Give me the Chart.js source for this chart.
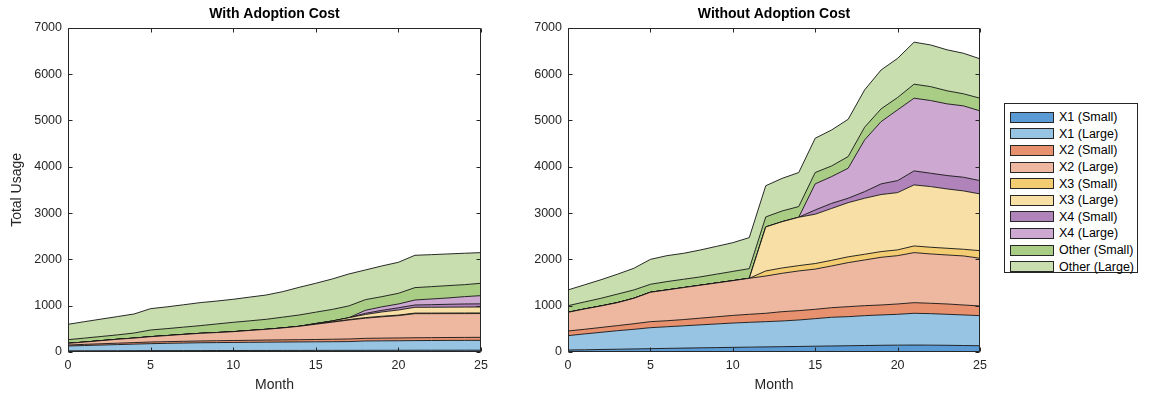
<!DOCTYPE html>
<html>
<head>
<meta charset="utf-8">
<script src="https://cdn.jsdelivr.net/npm/chart.js@4.4.1/dist/chart.umd.min.js"></script>
<style>
  html, body { margin: 0; padding: 0; background: #fff; }
  body { width: 1151px; height: 400px; position: relative; overflow: hidden;
         font-family: "Liberation Sans", Arial, Helvetica, sans-serif; }
  .panel { position: absolute; top: 0; width: 500px; height: 400px; }
  #legend { position: absolute; left: 1004px; top: 103px; width: 134px; height: 170px;
            border: 1px solid #262626; box-sizing: border-box; background: #fff; padding-top: 5px; }
  .row { height: 16.6px; display: flex; align-items: center; font-size: 12.5px; color: #000; white-space: nowrap; }
  .sw { width: 42px; height: 9px; border: 1px solid #262626; margin-left: 5px; margin-right: 5px; flex: none; }
</style>
</head>
<body>
<div class="panel" style="left:0"><canvas id="left" width="500" height="400"></canvas></div>
<div class="panel" style="left:500px"><canvas id="right" width="500" height="400"></canvas></div>
<div id="legend"></div>
<script>
// Months on the x axis
const months = [0,1,2,3,4,5,6,7,8,9,10,11,12,13,14,15,16,17,18,19,20,21,22,23,24,25];
const xTicks = [0, 5, 10, 15, 20, 25];
const yTicks = [0, 1000, 2000, 3000, 4000, 5000, 6000, 7000];

const seriesLabels = ['X1 (Small)', 'X1 (Large)', 'X2 (Small)', 'X2 (Large)', 'X3 (Small)',
                      'X3 (Large)', 'X4 (Small)', 'X4 (Large)', 'Other (Small)', 'Other (Large)'];
const seriesColors = ['#5b9bd5', '#97c4e3', '#e8916f', '#eeb8a0', '#f4cc72',
                      '#f7dfa6', '#b083ba', '#cda8d0', '#a9cd85', '#c8deaf'];

// Usage with adoption cost
const withX1Small = [25,26,27,28,29,30,30,31,31,32,32,33,33,34,34,35,35,36,36,37,37,38,38,38,39,39];
const withX1Large = [105,114,123,132,141,150,157,162,169,171,174,176,179,181,184,185,187,189,202,204,206,208,210,212,212,213];
const withX2Small = [20,25,28,30,33,36,37,38,38,40,42,44,46,47,48,50,53,56,57,58,60,62,62,63,64,65];
const withX2Large = [37,50,67,85,97,115,131,149,165,177,191,212,232,258,289,330,370,409,435,461,482,520,518,516,514,513];
const withX3Small = [0,0,0,0,0,0,0,0,0,0,0,0,0,0,0,5,7,10,12,12,12,12,12,12,13,13];
const withX3Large = [0,0,0,0,0,0,0,0,0,0,0,0,0,0,0,10,18,40,68,93,110,125,126,127,128,129];
const withX4Small = [0,0,0,0,0,0,0,0,0,0,0,0,0,0,0,0,0,0,25,35,48,50,56,62,67,68];
const withX4Large = [0,0,0,0,0,0,0,0,0,0,0,0,0,0,0,0,0,0,65,75,82,108,123,137,158,177];
const withOtherSmall = [79,85,90,95,110,144,150,157,166,185,202,208,216,232,244,245,250,255,230,220,230,267,266,266,259,267];
const withOtherLarge = [332,355,375,395,411,461,470,483,497,495,497,512,525,551,598,624,657,690,641,663,670,698,691,684,678,662];

// Usage without adoption cost
const withoutX1Small = [43,48,54,60,66,72,78,84,90,95,100,105,110,115,120,125,130,135,140,145,148,150,148,145,140,135];
const withoutX1Large = [310,342,371,400,424,453,467,481,495,510,525,536,545,555,571,595,620,628,645,655,666,686,680,669,660,650];
const withoutX2Small = [101,100,105,110,120,130,130,135,145,155,165,173,181,201,202,202,207,216,215,215,223,229,224,223,215,209];
const withoutX2Large = [403,439,464,496,550,635,665,690,710,730,750,778,804,829,857,868,901,951,987,1030,1043,1081,1065,1058,1059,1030];
const withoutX3Small = [0,0,0,0,0,0,0,0,0,0,0,0,110,115,115,120,122,125,123,123,125,144,145,145,144,164];
const withoutX3Large = [0,0,0,0,0,0,0,0,0,0,0,0,950,1000,1045,1065,1120,1170,1210,1232,1237,1318,1310,1281,1260,1225];
const withoutX4Small = [0,0,0,0,0,0,0,0,0,0,0,0,0,0,0,92,110,95,143,230,258,302,288,289,295,287];
const withoutX4Large = [0,0,0,0,0,0,0,0,0,0,0,0,0,0,0,563,578,648,1117,1345,1528,1570,1570,1548,1541,1506];
const withoutOtherSmall = [143,151,166,184,180,172,180,180,180,190,200,208,216,231,230,245,230,252,274,275,267,303,300,282,261,274];
const withoutOtherLarge = [340,370,400,430,468,538,560,560,580,600,620,670,674,704,735,740,777,805,806,840,845,907,900,885,875,850];

const withSeries = [withX1Small, withX1Large, withX2Small, withX2Large, withX3Small,
                    withX3Large, withX4Small, withX4Large, withOtherSmall, withOtherLarge];
const withoutSeries = [withoutX1Small, withoutX1Large, withoutX2Small, withoutX2Large, withoutX3Small,
                       withoutX3Large, withoutX4Small, withoutX4Large, withoutOtherSmall, withoutOtherLarge];

const FONT = '"Liberation Sans", Arial, Helvetica, sans-serif';
const AXIS = '#262626';

// Box around the plot area with inward tick marks on all four sides
const boxPlugin = {
  id: 'box',
  afterDatasetsDraw(chart) {
    const { ctx, chartArea: a, scales: { x, y } } = chart;
    const L = Math.round(a.left) + 0.5, R = Math.round(a.right) - 0.5;
    const T = Math.round(a.top) + 0.5, B = Math.round(a.bottom) - 0.5;
    ctx.save();
    ctx.strokeStyle = AXIS;
    ctx.lineWidth = 1;
    ctx.beginPath();
    ctx.rect(L, T, R - L, B - T);
    const tl = 4;
    xTicks.forEach(v => {
      const px = Math.round(x.getPixelForValue(v)) + 0.5;
      ctx.moveTo(px, B); ctx.lineTo(px, B - tl);
      ctx.moveTo(px, T); ctx.lineTo(px, T + tl);
    });
    yTicks.forEach(v => {
      const py = Math.round(y.getPixelForValue(v)) + 0.5;
      ctx.moveTo(L, py); ctx.lineTo(L + tl, py);
      ctx.moveTo(R, py); ctx.lineTo(R - tl, py);
    });
    ctx.stroke();
    ctx.restore();
  }
};

function makeChart(id, title, series, showYTitle) {
  const datasets = series.map((vals, i) => ({
    label: seriesLabels[i],
    data: months.map((m, k) => ({ x: m, y: vals[k] })),
    backgroundColor: seriesColors[i],
    borderColor: 'rgba(20,20,20,0.9)',
    borderWidth: 1,
    pointRadius: 0,
    tension: 0,
    fill: i === 0 ? 'origin' : '-1'
  }));
  return new Chart(document.getElementById(id), {
    type: 'line',
    data: { datasets },
    options: {
      responsive: false,
      animation: false,
      events: [],
      layout: { padding: { left: 0, right: showYTitle ? 19 : 20, top: 0, bottom: 0 } },
      plugins: {
        legend: { display: false },
        tooltip: { enabled: false },
        title: {
          display: true, text: title, color: '#000', fullSize: false,
          font: { family: FONT, size: 14, weight: 'bold' },
          padding: { top: 6, bottom: 5 }
        }
      },
      scales: {
        x: {
          type: 'linear', min: 0, max: 25,
          grid: { display: false, drawTicks: false },
          border: { display: false },
          ticks: { stepSize: 5, color: AXIS, font: { family: FONT, size: 12.5 }, padding: 6, maxRotation: 0,
                   callback: v => String(v) },
          title: { display: true, text: 'Month', color: AXIS, font: { family: FONT, size: 14 }, padding: { top: 0, bottom: 6 } },
          afterFit: s => { s.height = 48; }
        },
        y: {
          type: 'linear', min: 0, max: 7000, stacked: true,
          grid: { display: false, drawTicks: false },
          border: { display: false },
          ticks: { stepSize: 1000, color: AXIS, font: { family: FONT, size: 12.5 }, padding: 6,
                   callback: v => String(v) },
          title: { display: showYTitle, text: 'Total Usage', color: AXIS, font: { family: FONT, size: 14 }, padding: { top: 9, bottom: 0 } },
          afterFit: s => { s.width = 68; }
        }
      }
    },
    plugins: [boxPlugin]
  });
}

makeChart('left', 'With Adoption Cost', withSeries, true);
makeChart('right', 'Without Adoption Cost', withoutSeries, false);

// Legend entries from the same labels and colours
const legend = document.getElementById('legend');
seriesLabels.forEach((lab, i) => {
  const row = document.createElement('div');
  row.className = 'row';
  const sw = document.createElement('span');
  sw.className = 'sw';
  sw.style.background = seriesColors[i];
  const t = document.createElement('span');
  t.textContent = lab;
  row.appendChild(sw); row.appendChild(t);
  legend.appendChild(row);
});
</script>
</body>
</html>
